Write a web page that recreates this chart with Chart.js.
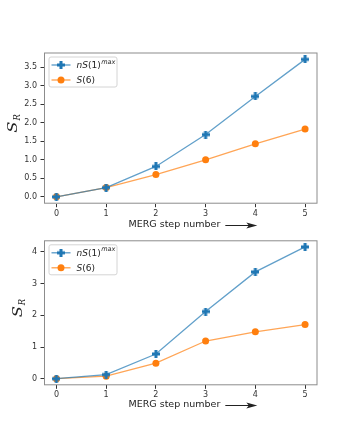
<!DOCTYPE html>
<html><head><meta charset="utf-8">
<script src="https://cdn.jsdelivr.net/npm/chart.js@4"></script>
<style>
body{margin:0;background:#fff}
#wrap{position:relative;width:353px;height:441px}
canvas{position:absolute;left:0}
</style>
</head><body>
<div id="wrap">
<canvas id="c1" width="353" height="232" style="top:0"></canvas>
<canvas id="c2" width="353" height="209" style="top:232px"></canvas>
</div>
<script>
// MERG steps on x
const steps = [0, 1, 2, 3, 4, 5];
// top panel
const topMax = [0, 0.25, 0.82, 1.68, 2.71, 3.71];
const topS6 = [0, 0.25, 0.60, 1.00, 1.43, 1.83];
const topYTicks = [0, 0.5, 1, 1.5, 2, 2.5, 3, 3.5];
// bottom panel
const botMax = [0, 0.13, 0.78, 2.12, 3.37, 4.16];
const botS6 = [0, 0.08, 0.49, 1.19, 1.48, 1.71];
const botYTicks = [0, 1, 2, 3, 4];
const xLabel = 'MERG step number';

const BLUE = '#1f77b4', ORANGE = '#ff7f0e';
const FONT = '"DejaVu Sans", sans-serif';
const SERIF = '"DejaVu Serif", serif';

// filled plus marker (matplotlib 'P')
const plus = document.createElement('canvas');
plus.width = 8; plus.height = 8;
(function () {
    const c = plus.getContext('2d');
    c.fillStyle = BLUE;
    c.fillRect(2.5, 0, 3, 8);
    c.fillRect(0, 2.5, 8, 3);
})();

function drawLegend(ctx, x, y) {
    ctx.save();
    ctx.fillStyle = 'rgba(255,255,255,0.8)';
    ctx.strokeStyle = '#d4d4d4';
    ctx.lineWidth = 1;
    ctx.beginPath();
    ctx.roundRect(x + 0.5, y + 0.5, 68, 30, 2);
    ctx.fill(); ctx.stroke();
    [BLUE, ORANGE].forEach((col, i) => {
        const yy = y + 8.5 + i * 15;
        ctx.strokeStyle = col; ctx.globalAlpha = 0.75; ctx.lineWidth = 1.3;
        ctx.beginPath(); ctx.moveTo(x + 3, yy); ctx.lineTo(x + 22, yy); ctx.stroke();
        ctx.globalAlpha = 1;
        if (i === 0) ctx.drawImage(plus, x + 12.5 - 4, yy - 4);
        else { ctx.fillStyle = ORANGE; ctx.beginPath(); ctx.arc(x + 12.5, yy, 3.5, 0, Math.PI * 2); ctx.fill(); }
    });
    ctx.fillStyle = '#222';
    ctx.textBaseline = 'middle';
    let tx = x + 28, yy = y + 9;
    ctx.font = 'italic 9px ' + FONT; ctx.fillText('nS', tx, yy); tx += ctx.measureText('nS').width;
    ctx.font = '9px ' + FONT; ctx.fillText('(1)', tx, yy); tx += ctx.measureText('(1)').width + 0.5;
    ctx.font = 'italic 6.5px ' + FONT; ctx.fillText('max', tx, yy - 3.5);
    tx = x + 28; yy = y + 24;
    ctx.font = 'italic 9px ' + FONT; ctx.fillText('S', tx, yy); tx += ctx.measureText('S').width;
    ctx.font = '9px ' + FONT; ctx.fillText('(6)', tx, yy);
    ctx.restore();
}

const decor = {
    id: 'decor',
    afterDraw(chart) {
        const ctx = chart.ctx, a = chart.chartArea;
        const o = chart.options;
        ctx.save();
        ctx.strokeStyle = '#8c8c8c'; ctx.lineWidth = 1;
        ctx.strokeRect(a.left + 0.5, a.top + 0.5, a.right - a.left - 1, a.bottom - a.top - 1);
        // y label: calligraphic-ish S with subscript R
        ctx.translate(o.yLabelX, (a.top + a.bottom) / 2 - 6);
        ctx.rotate(-Math.PI / 2);
        ctx.fillStyle = '#222';
        ctx.textBaseline = 'alphabetic';
        ctx.save();
        ctx.scale(1.25, 1);
        ctx.font = 'italic 13px ' + SERIF;
        const sw = ctx.measureText('S').width * 1.25;
        ctx.fillText('S', -sw / 1.25 / 2 - 4, 0);
        ctx.restore();
        ctx.font = 'italic 8.5px ' + SERIF;
        ctx.fillText('R', sw / 2 - 4, 3);
        ctx.restore();
        // x label with arrow
        ctx.save();
        ctx.fillStyle = '#222'; ctx.font = '9.5px ' + FONT; ctx.textBaseline = 'middle';
        const ly = o.xLabelY;
        ctx.fillText(xLabel, 128.5, ly);
        const ax = 128.5 + ctx.measureText(xLabel).width + 5;
        ctx.strokeStyle = '#222'; ctx.lineWidth = 1;
        ctx.beginPath(); ctx.moveTo(ax, ly + 0.5); ctx.lineTo(ax + 25, ly + 0.5); ctx.stroke();
        ctx.beginPath(); ctx.moveTo(ax + 32, ly + 0.5); ctx.lineTo(ax + 21, ly - 2.5); ctx.lineTo(ax + 23.5, ly + 0.5); ctx.lineTo(ax + 21, ly + 3.5); ctx.closePath(); ctx.fill();
        ctx.restore();
        drawLegend(ctx, a.left + 4.5, a.top + 4);
    }
};

function makeChart(id, maxVals, s6Vals, yTicks, yMin, yMax, padTop, xH, labelY, yLabelX, fmt) {
    const pts = v => steps.map((s, i) => ({ x: s, y: v[i] }));
    return new Chart(document.getElementById(id), {
        type: 'line',
        data: {
            datasets: [{
                label: 'nS(1)max',
                data: pts(maxVals),
                borderColor: 'rgba(31,119,180,0.7)',
                borderWidth: 1.3,
                pointStyle: plus,
                pointBackgroundColor: BLUE,
                pointBorderColor: BLUE
            }, {
                label: 'S(6)',
                data: pts(s6Vals),
                borderColor: 'rgba(255,127,14,0.7)',
                borderWidth: 1.3,
                pointRadius: 3.5,
                pointBackgroundColor: ORANGE,
                pointBorderColor: ORANGE,
                pointBorderWidth: 0
            }]
        },
        options: {
            responsive: false,
            animation: false,
            xLabelY: labelY,
            yLabelX: yLabelX,
            layout: { padding: { top: padTop, left: 0, right: 35.5, bottom: 0 } },
            plugins: { legend: { display: false }, tooltip: { enabled: false } },
            scales: {
                x: {
                    type: 'linear', min: -0.25, max: 5.25,
                    afterBuildTicks: s => { s.ticks = steps.map(v => ({ value: v })); },
                    afterFit: s => { s.height = xH; },
                    grid: { drawOnChartArea: false, tickLength: 3.5, tickColor: '#333' },
                    border: { display: false },
                    ticks: { color: '#333', padding: 1.5, font: { family: FONT, size: 8 } }
                },
                y: {
                    min: yMin, max: yMax,
                    afterBuildTicks: s => { s.ticks = yTicks.map(v => ({ value: v })); },
                    afterFit: s => { s.width = 44; },
                    grid: { drawOnChartArea: false, tickLength: 3.5, tickColor: '#333' },
                    border: { display: false },
                    ticks: { color: '#333', padding: 3.5, font: { family: FONT, size: 8 }, callback: fmt }
                }
            }
        },
        plugins: [decor]
    });
}

makeChart('c1', topMax, topS6, topYTicks, -0.185, 3.895, 52.5, 28.3, 225, 17, v => v.toFixed(1));
makeChart('c2', botMax, botS6, botYTicks, -0.208, 4.368, 2.7, 55.7, 173, 22, v => v.toFixed(0));
</script>
</body></html>
